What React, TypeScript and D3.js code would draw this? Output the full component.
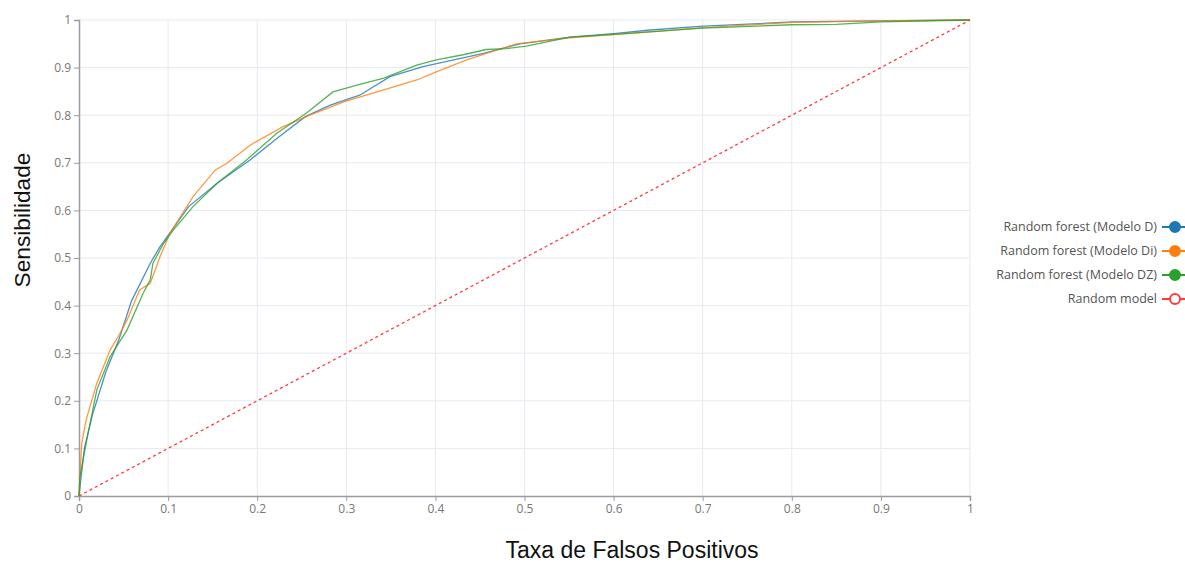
import * as d3 from 'd3';
import React, { useRef, useEffect } from 'react';

// ROC curves: [falsos positivos, sensibilidade]
const modeloD: [number, number][] = [
  [0, 0], [0.006, 0.1], [0.015, 0.17], [0.03, 0.26], [0.045, 0.33], [0.059, 0.41], [0.08, 0.489],
  [0.091, 0.524], [0.123, 0.608], [0.155, 0.657], [0.192, 0.706], [0.222, 0.751], [0.254, 0.797],
  [0.282, 0.821], [0.315, 0.842], [0.349, 0.881], [0.386, 0.902], [0.454, 0.93], [0.495, 0.95],
  [0.551, 0.964], [0.603, 0.972], [0.641, 0.979], [0.701, 0.987], [0.801, 0.996], [0.9, 0.998], [1, 1]
];
const modeloDi: [number, number][] = [
  [0, 0], [0.003, 0.11], [0.008, 0.16], [0.02, 0.237], [0.035, 0.307], [0.044, 0.335], [0.054, 0.37],
  [0.068, 0.433], [0.08, 0.447], [0.091, 0.503], [0.102, 0.552], [0.128, 0.629], [0.153, 0.685],
  [0.166, 0.699], [0.192, 0.737], [0.229, 0.776], [0.259, 0.8], [0.297, 0.828], [0.342, 0.853],
  [0.379, 0.874], [0.401, 0.891], [0.435, 0.916], [0.491, 0.95], [0.547, 0.962], [0.641, 0.975],
  [0.701, 0.984], [0.801, 0.995], [0.9, 0.998], [1, 1]
];
const modeloDZ: [number, number][] = [
  [0, 0], [0.001, 0.04], [0.01, 0.13], [0.02, 0.223], [0.035, 0.293], [0.054, 0.349], [0.072, 0.426],
  [0.08, 0.454], [0.083, 0.489], [0.095, 0.531], [0.106, 0.559], [0.128, 0.608], [0.155, 0.657],
  [0.188, 0.706], [0.222, 0.762], [0.255, 0.804], [0.285, 0.849], [0.312, 0.863], [0.342, 0.878],
  [0.379, 0.905], [0.401, 0.916], [0.431, 0.927], [0.457, 0.938], [0.48, 0.94], [0.502, 0.945],
  [0.551, 0.964], [0.6, 0.97], [0.7, 0.983], [0.8, 0.99], [0.85, 0.991], [0.9, 0.996], [1, 1]
];
const randomModel: [number, number][] = [[0, 0], [1, 1]];

const seriesNames = ['Random forest (Modelo D)', 'Random forest (Modelo Di)', 'Random forest (Modelo DZ)', 'Random model'];
const seriesColors = ['#1f77b4', '#ff7f0e', '#2ca02c', '#ff3b3b'];
const ticks = [0, 0.1, 0.2, 0.3, 0.4, 0.5, 0.6, 0.7, 0.8, 0.9, 1];

function RocChart({ width, height }: { width: number; height: number }) {
  const ref = useRef<SVGSVGElement>(null);

  useEffect(() => {
    const svg = d3.select(ref.current);
    svg.selectAll('*').remove();

    const x = d3.scaleLinear().domain([0, 1]).range([79, 970]);
    const y = d3.scaleLinear().domain([0, 1]).range([496, 20]);
    const font = 'Arial, "Liberation Sans", sans-serif';
    const small = '"Open Sans", sans-serif';

    // grid
    svg.append('g').selectAll('line.gx').data(ticks.slice(1)).enter().append('line')
      .attr('x1', d => x(d)).attr('x2', d => x(d)).attr('y1', y(0)).attr('y2', y(1))
      .attr('stroke', '#e6e9f2').attr('stroke-width', 1);
    svg.append('g').selectAll('line.gy').data(ticks.slice(1)).enter().append('line')
      .attr('x1', x(0)).attr('x2', x(1)).attr('y1', d => y(d)).attr('y2', d => y(d))
      .attr('stroke', '#e6e9f2').attr('stroke-width', 1);

    // axes
    const xAxis = svg.append('g').attr('transform', `translate(0,${y(0)})`)
      .call(d3.axisBottom(x).tickValues(ticks).tickFormat(d3.format('')).tickSize(5).tickPadding(3));
    const yAxis = svg.append('g').attr('transform', `translate(${x(0)},0)`)
      .call(d3.axisLeft(y).tickValues(ticks).tickFormat(d3.format('')).tickSize(5).tickPadding(3));
    [xAxis, yAxis].forEach(a => {
      a.select('.domain').attr('stroke', '#9a9ca3').attr('stroke-width', 1.5);
      a.selectAll('.tick line').attr('stroke', '#9a9ca3');
      a.selectAll('.tick text').attr('fill', '#777').style('font-family', small).style('font-size', '12px');
    });

    // curves
    const line = d3.line<[number, number]>().x(d => x(d[0])).y(d => y(d[1]));
    [modeloD, modeloDi, modeloDZ].forEach((s, i) => {
      svg.append('path').datum(s).attr('d', line).attr('fill', 'none')
        .attr('stroke', seriesColors[i]).attr('stroke-width', 1.3).attr('stroke-opacity', 0.8);
    });
    svg.append('path').datum(randomModel).attr('d', line).attr('fill', 'none')
      .attr('stroke', seriesColors[3]).attr('stroke-width', 1.3).attr('stroke-dasharray', '3,3');

    // axis titles
    svg.append('text').attr('transform', 'translate(30,220) rotate(-90)')
      .attr('text-anchor', 'middle').style('font-family', font).style('font-size', '22.7px')
      .attr('fill', '#111').text('Sensibilidade');
    svg.append('text').attr('x', 632).attr('y', 558)
      .attr('text-anchor', 'middle').style('font-family', font).style('font-size', '23px')
      .attr('fill', '#111').text('Taxa de Falsos Positivos');

    // legend
    const legend = svg.append('g').selectAll('g').data(seriesNames).enter().append('g')
      .attr('transform', (_d, i) => `translate(0,${227 + i * 24})`);
    legend.append('text').attr('x', 1157).attr('y', 4).attr('text-anchor', 'end')
      .style('font-family', small).style('font-size', '12.5px').attr('fill', '#555').text(d => d);
    legend.append('line').attr('x1', 1162).attr('x2', 1185).attr('y1', 0).attr('y2', 0)
      .attr('stroke', (_d, i) => seriesColors[i]).attr('stroke-width', 2);
    legend.append('circle').attr('cx', 1175).attr('cy', 0).attr('r', 5)
      .attr('fill', (_d, i) => (i === 3 ? '#fff' : seriesColors[i]))
      .attr('stroke', (_d, i) => seriesColors[i]).attr('stroke-width', 2);
  }, [width, height]);

  return <svg ref={ref} width={width} height={height} style={{ display: 'block' }} />;
}

export default function App() {
  return (
    <div style={{ position: 'absolute', left: 0, top: 0 }}>
      <RocChart width={1185} height={563} />
    </div>
  );
}
